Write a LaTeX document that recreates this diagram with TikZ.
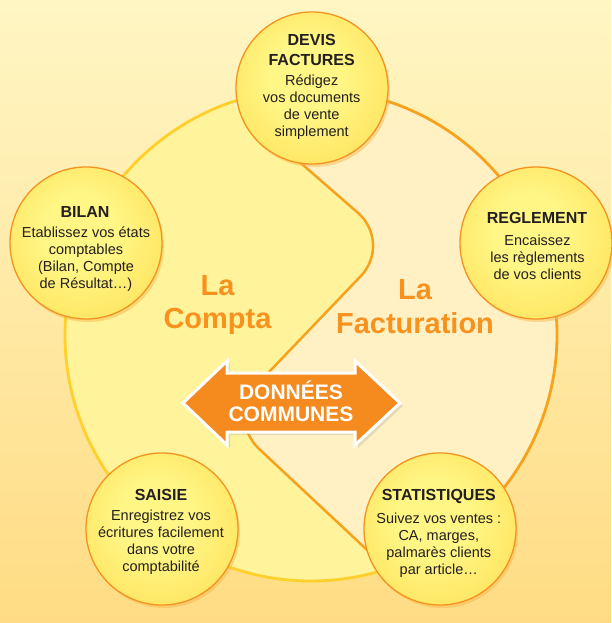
\documentclass[tikz,border=0pt]{standalone}
\usepackage{fontspec}
\setmainfont{Liberation Sans}
\usetikzlibrary{shadows}
\definecolor{bgtop}{HTML}{FFF6C4}
\definecolor{bgbot}{HTML}{FFDC84}
\definecolor{comptafill}{HTML}{FFF39B}
\definecolor{factfill}{HTML}{FFF1C4}
\definecolor{lineorange}{HTML}{F7A21D}
\definecolor{lineyellow}{HTML}{FFCF2A}
\definecolor{bubblein}{HTML}{FFF685}
\definecolor{bubblemid}{HTML}{FFE159}
\definecolor{bubbleout}{HTML}{FFC630}
\definecolor{bubbleedge}{HTML}{F39320}
\definecolor{bubbleshade}{HTML}{F5B548}
\definecolor{arroworange}{HTML}{F58A1F}
\definecolor{labelorange}{HTML}{F7921E}
\definecolor{inktext}{HTML}{231F20}
\pgfdeclareradialshading{bubbleglow}{\pgfpoint{-3bp}{5bp}}{color(0bp)=(bubblein); color(12bp)=(bubblein); color(34bp)=(bubblemid); color(50bp)=(bubbleout)}

\begin{document}
\begin{tikzpicture}[x=10pt,y=10pt]
            \tikzstyle{every node}+=[inner sep=0pt]
            \tikzstyle{bubble}=[circle,minimum size=152pt,draw=bubbleedge,line width=1.3pt,shade,shading=bubbleglow,drop shadow={shadow xshift=2pt,shadow yshift=-3pt,fill=bubbleshade,opacity=0.45}]
            \tikzstyle{bubbletitle}=[align=center,text=inktext,font=\bfseries\fontsize{16}{20}\selectfont]
            \tikzstyle{bubblebody}=[align=center,text=inktext,font=\fontsize{14.5}{17}\selectfont]
            \tikzstyle{sidelabel}=[align=center,text=labelorange,font=\bfseries\fontsize{29}{33.5}\selectfont]
            \tikzstyle{commonarrow}=[fill=arroworange,draw=white,line width=3pt,line join=miter,drop shadow={shadow xshift=3pt,shadow yshift=-3pt,fill=black!50,opacity=0.2}]
            \useasboundingbox (0,0) rectangle (61.1,-62.3);
            \fill [top color=bgtop,bottom color=bgbot] (0,0) rectangle (61.1,-62.3);
            \fill [factfill] (31.1,-33.5) circle (24.6);
            \begin{scope}
            \clip (31.1,-33.5) circle (24.6);
            \fill [comptafill,rounded corners=46pt] (15,-3.2) -- (39.25,-24.29) -- (22.55,-41.75) -- (47,-64.6) -- (0,-64.6) -- (0,-3.2) -- cycle;
            \end{scope}
            \draw [lineorange,line width=2.5pt,rounded corners=46pt] (28,-14.5) -- (39.25,-24.29) -- (22.55,-41.75) -- (38,-56.2);
            \draw [lineyellow,line width=2.8pt] (31.1,-33.5) ++(90:24.6) arc [start angle=90,end angle=304,radius=24.6];
            \draw [lineorange,line width=2.8pt] (31.1,-33.5) ++(-56:24.6) arc [start angle=-56,end angle=90,radius=24.6];
            \node [sidelabel] (compta) at (21.75,-30.5) {La\\Compta};
            \node [sidelabel] (facturation) at (41.5,-30.65) {La\\Facturation};
            \draw [commonarrow] (18.3,-40.3) -- (22.7,-36.1) -- (22.7,-37.3) -- (35.5,-37.3) -- (35.5,-36.1) -- (40.0,-40.3) -- (35.5,-44.5) -- (35.5,-43.2) -- (22.7,-43.2) -- (22.7,-44.5) -- cycle;
            \node [align=center,text=white,font=\bfseries\fontsize{21}{22}\selectfont] (donnees) at (29.1,-40.15) {DONNÉES\\COMMUNES};
            \node [bubble] (devis) at (31.2,-8.8) {};
            \node [bubble] (bilan) at (8.6,-24.3) {};
            \node [bubble] (reglement) at (53.6,-24.3) {};
            \node [bubble] (saisie) at (16.2,-52.9) {};
            \node [bubble] (stats) at (44.0,-52.9) {};
            \node [bubbletitle] (devis title) at (31.17,-5.0) {DEVIS\\FACTURES};
            \node [bubblebody] (devis body) at (31.17,-10.74) {Rédigez\\vos documents\\de vente\\simplement};
            \node [bubbletitle] (bilan title) at (8.5,-21.17) {BILAN};
            \node [bubblebody] (bilan body) at (8.6,-25.87) {Etablissez vos états\\comptables\\(Bilan, Compte\\de Résultat…)};
            \node [bubbletitle] (reglement title) at (53.7,-21.8) {REGLEMENT};
            \node [bubblebody] (reglement body) at (53.75,-25.74) {Encaissez\\les règlements\\de vos clients};
            \node [bubbletitle] (saisie title) at (16.1,-49.5) {SAISIE};
            \node [bubblebody] (saisie body) at (16.1,-54.25) {Enregistrez vos\\écritures facilement\\dans votre\\comptabilité};
            \node [bubbletitle] (stats title) at (43.88,-49.67) {STATISTIQUES};
            \node [bubblebody] (stats body) at (43.88,-54.5) {Suivez vos ventes :\\CA, marges,\\palmarès clients\\par article…};
        \end{tikzpicture}
\end{document}
